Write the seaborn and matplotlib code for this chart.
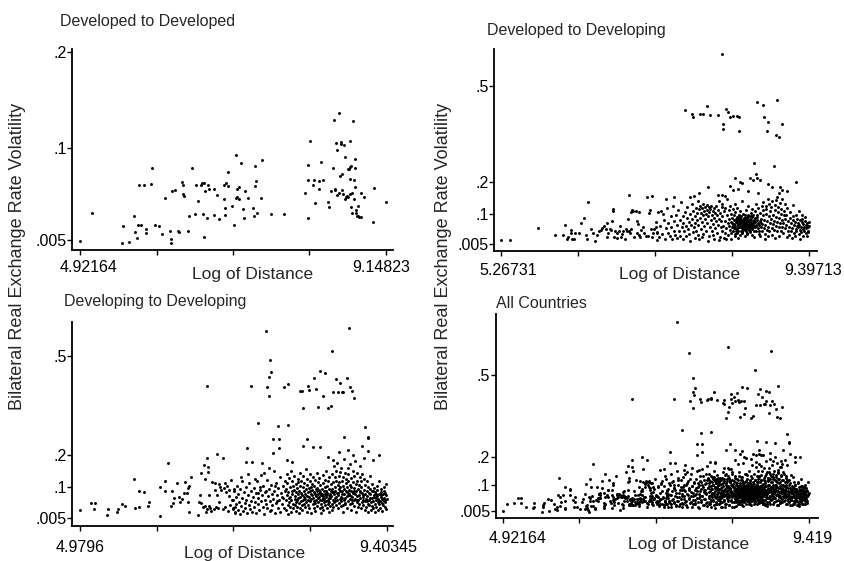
import matplotlib
matplotlib.use("Agg")
import matplotlib.pyplot as plt
import matplotlib.transforms as mtransforms
import seaborn as sns
import pandas as pd

sns.set_style("ticks")
plt.rcParams['font.family'] = ['Liberation Sans', 'DejaVu Sans']

# ---------------- data ----------------
panel_titles = ["Developed to Developed", "Developed to Developing",
                "Developing to Developing", "All Countries"]
x_title = "Log of Distance"
y_title = "Bilateral Real Exchange Rate Volatility"

dd_xticklabels = ["4.92164", "9.14823"]
ddg_xticklabels = ["5.26731", "9.39713"]
dgdg_xticklabels = ["4.9796", "9.40345"]
all_xticklabels = ["4.92164", "9.419"]
dd_yticks = [".005", ".1", ".2"]
other_yticks = [".005", ".1", ".2", ".5"]

# Developed to Developed
dd_points = [
    (4.9216, 0.004), (5.087, 0.033), (5.502, 0.002), (5.603, 0.003), (5.515, 0.019),
    (5.672, 0.030), (5.686, 0.013), (5.713, 0.007), (5.723, 0.020), (5.759, 0.021),
    (5.833, 0.016), (5.833, 0.012), (5.916, 0.080), (5.907, 0.063), (5.736, 0.062),
    (5.806, 0.062), (5.962, 0.020), (6.013, 0.019), (6.059, 0.011), (6.100, 0.048),
    (6.165, 0.014), (6.174, 0.006), (6.183, 0.002), (6.192, 0.056), (6.238, 0.057),
    (6.275, 0.014), (6.284, 0.013), (6.335, 0.065), (6.349, 0.062), (6.344, 0.053),
    (6.353, 0.051), (6.413, 0.014), (6.427, 0.030), (6.468, 0.080), (6.505, 0.032),
    (6.528, 0.062), (6.547, 0.045), (6.593, 0.062), (6.602, 0.064), (6.620, 0.032),
    (6.634, 0.064), (6.639, 0.008), (6.653, 0.056), (6.676, 0.028), (6.689, 0.062),
    (6.708, 0.058), (6.768, 0.058), (6.772, 0.031), (6.814, 0.052), (6.837, 0.027),
    (6.906, 0.062), (6.915, 0.047), (6.920, 0.031), (6.929, 0.038), (6.938, 0.064),
    (6.961, 0.061), (6.970, 0.075), (7.016, 0.040), (7.044, 0.020), (7.076, 0.093),
    (7.081, 0.048), (7.090, 0.058), (7.095, 0.050), (7.113, 0.060), (7.122, 0.047),
    (7.150, 0.085), (7.177, 0.037), (7.182, 0.028), (7.200, 0.056), (7.247, 0.048),
    (7.311, 0.038), (7.320, 0.030), (7.334, 0.061), (7.334, 0.082), (7.348, 0.066),
    (7.371, 0.033), (7.421, 0.048), (7.435, 0.088), (7.560, 0.032), (7.739, 0.032),
    (8.034, 0.054), (8.071, 0.028), (8.071, 0.083), (8.071, 0.067), (8.098, 0.108),
    (8.135, 0.062), (8.158, 0.067), (8.172, 0.043), (8.218, 0.066), (8.227, 0.058),
    (8.255, 0.086), (8.282, 0.067), (8.347, 0.044), (8.365, 0.039), (8.388, 0.056),
    (8.416, 0.080), (8.425, 0.129), (8.439, 0.058), (8.448, 0.057), (8.453, 0.105),
    (8.467, 0.098), (8.476, 0.052), (8.494, 0.054), (8.503, 0.136), (8.517, 0.071),
    (8.522, 0.104), (8.531, 0.106), (8.540, 0.073), (8.540, 0.057), (8.549, 0.053),
    (8.572, 0.103), (8.577, 0.047), (8.586, 0.091), (8.595, 0.050), (8.609, 0.051),
    (8.623, 0.078), (8.628, 0.050), (8.632, 0.079), (8.646, 0.053), (8.651, 0.108),
    (8.655, 0.068), (8.655, 0.081), (8.669, 0.082), (8.669, 0.039), (8.678, 0.054),
    (8.683, 0.033), (8.688, 0.128), (8.701, 0.067), (8.711, 0.047), (8.715, 0.089),
    (8.724, 0.080), (8.724, 0.060), (8.729, 0.036), (8.738, 0.033), (8.747, 0.030),
    (8.761, 0.040), (8.761, 0.030), (8.780, 0.029), (8.798, 0.029), (8.807, 0.054),
    (8.844, 0.049), (8.964, 0.024), (8.982, 0.059), (9.148, 0.044),
]

# Developed to Developing: sparse part
ddg_sparse = [
    (5.2673, 0.019), (5.388, 0.019), (5.763, 0.055), (5.986, 0.035), (6.093, 0.035),
    (6.125, 0.066), (6.147, 0.021), (6.165, 0.027), (6.200, 0.050), (6.209, 0.041),
    (6.218, 0.021), (6.245, 0.021), (6.254, 0.039), (6.317, 0.041), (6.343, 0.071),
    (6.379, 0.088), (6.406, 0.033), (6.415, 0.023), (6.468, 0.054), (6.504, 0.041),
    (6.526, 0.014), (6.558, 0.035), (6.576, 0.046), (6.602, 0.050), (6.620, 0.056),
    (6.647, 0.062), (6.669, 0.054), (6.683, 0.073), (6.692, 0.027), (6.701, 0.041),
    (6.727, 0.054), (6.745, 0.050), (6.759, 0.079), (6.763, 0.108), (6.772, 0.114),
    (6.781, 0.027), (6.790, 0.046), (6.817, 0.025), (6.826, 0.039), (6.843, 0.046),
    (6.861, 0.062), (6.870, 0.027), (6.888, 0.037), (6.897, 0.048), (6.924, 0.021),
    (6.942, 0.052), (6.951, 0.046), (6.968, 0.083), (6.977, 0.048), (6.995, 0.039),
    (7.013, 0.054), (7.013, 0.106), (7.026, 0.112), (7.040, 0.110), (7.049, 0.029),
    (7.071, 0.110), (7.085, 0.079), (7.094, 0.041), (7.102, 0.068), (7.116, 0.106),
    (7.120, 0.035), (7.129, 0.027), (7.147, 0.050), (7.174, 0.060), (7.183, 0.041),
    (7.205, 0.031), (7.236, 0.031), (7.250, 0.102), (7.263, 0.112), (7.281, 0.052),
    (7.294, 0.027), (7.308, 0.041), (7.317, 0.052), (7.339, 0.058), (7.352, 0.019),
    (7.361, 0.041),
    (8.223, 0.600), (7.732, 0.424), (7.821, 0.412), (7.835, 0.402), (7.933, 0.413),
    (7.977, 0.412), (8.031, 0.436), (8.067, 0.409), (8.178, 0.408), (8.281, 0.428),
    (8.312, 0.419), (8.335, 0.404), (8.379, 0.407), (8.424, 0.405), (8.460, 0.404),
    (8.245, 0.381), (8.236, 0.365), (8.460, 0.358), (8.701, 0.449), (8.781, 0.441),
    (8.969, 0.457), (8.790, 0.404), (8.848, 0.388), (8.826, 0.360), (9.027, 0.381),
    (8.951, 0.347), (8.996, 0.341), (8.661, 0.260), (8.924, 0.250),
    (8.402, 0.212), (8.469, 0.201), (8.491, 0.198), (8.679, 0.225), (8.603, 0.211),
    (8.647, 0.206), (8.692, 0.211), (8.737, 0.206), (8.839, 0.193), (8.893, 0.185),
    (9.004, 0.185), (9.219, 0.200), (8.044, 0.183), (8.178, 0.159), (8.223, 0.160),
    (8.268, 0.156), (8.335, 0.188), (8.379, 0.175), (8.446, 0.177), (8.580, 0.170),
    (8.714, 0.166), (9.027, 0.175), (8.996, 0.164), (9.094, 0.173), (8.960, 0.154),
    (6.986, 0.158), (7.227, 0.154), (7.285, 0.157), (7.478, 0.148), (7.585, 0.154),
    (6.428, 0.138), (7.799, 0.154), (7.853, 0.157), (7.924, 0.166),
    (7.34, 0.075), (7.36, 0.042), (7.37, 0.105), (7.39, 0.028), (7.40, 0.061),
    (7.41, 0.108), (7.43, 0.036), (7.44, 0.100), (7.45, 0.082), (7.46, 0.022),
    (7.48, 0.055), (7.49, 0.118), (7.50, 0.040), (7.51, 0.071), (7.53, 0.030),
    (7.54, 0.092), (7.55, 0.058), (7.56, 0.020), (7.57, 0.126), (7.58, 0.046),
    (7.59, 0.079), (7.60, 0.035), (7.61, 0.098), (7.62, 0.025), (7.63, 0.065),
    (7.64, 0.112), (7.65, 0.048), (7.66, 0.082), (7.67, 0.032), (7.68, 0.138),
    (7.69, 0.058), (7.70, 0.094), (7.704, 0.020), (7.71, 0.071), (7.72, 0.045),
    (7.73, 0.105), (7.74, 0.062), (7.75, 0.030), (7.76, 0.088), (7.764, 0.122),
    (7.77, 0.052), (7.78, 0.076), (7.79, 0.038), (7.80, 0.099), (7.804, 0.016),
    (7.81, 0.066), (7.82, 0.130), (7.83, 0.085), (7.834, 0.044), (7.84, 0.108),
    (7.85, 0.058), (7.86, 0.026), (7.864, 0.092), (7.87, 0.072), (7.88, 0.118),
    (7.884, 0.048), (7.89, 0.082), (7.90, 0.034), (7.896, 0.102), (7.903, 0.140),
    (9.397, 0.062),
]

# Developed to Developing: dense part
ddg_dense = [
    (7.912, 0.064), (7.918, 0.115), (7.925, 0.022), (7.931, 0.088), (7.938, 0.125),
    (7.944, 0.052), (7.948, 0.104), (7.955, 0.074), (7.958, 0.118), (7.965, 0.028),
    (7.968, 0.038), (7.974, 0.096), (7.979, 0.130), (7.986, 0.062), (7.991, 0.110),
    (7.997, 0.085), (8.003, 0.120), (8.011, 0.045), (8.016, 0.100), (8.022, 0.128),
    (8.027, 0.070), (8.033, 0.112), (8.037, 0.092), (8.044, 0.016), (8.048, 0.122),
    (8.053, 0.030), (8.058, 0.105), (8.064, 0.058), (8.069, 0.115), (8.076, 0.080),
    (8.082, 0.125), (8.088, 0.098), (8.095, 0.048), (8.102, 0.110), (8.107, 0.068),
    (8.113, 0.034), (8.118, 0.118), (8.123, 0.088), (8.127, 0.020), (8.133, 0.102),
    (8.139, 0.055), (8.146, 0.125), (8.152, 0.078), (8.158, 0.095), (8.166, 0.040),
    (8.172, 0.112), (8.177, 0.066), (8.183, 0.018), (8.188, 0.085), (8.194, 0.140),
    (8.199, 0.028), (8.204, 0.104), (8.211, 0.058), (8.216, 0.078), (8.221, 0.120),
    (8.226, 0.045), (8.234, 0.092), (8.229, 0.132), (8.247, 0.062), (8.255, 0.108),
    (8.251, 0.025), (8.268, 0.078), (8.274, 0.040), (8.263, 0.118), (8.286, 0.055),
    (8.295, 0.098), (8.291, 0.145), (8.283, 0.020), (8.307, 0.070), (8.315, 0.112),
    (8.312, 0.035), (8.326, 0.085), (8.334, 0.050), (8.338, 0.125), (8.323, 0.062),
    (8.347, 0.040), (8.353, 0.075), (8.344, 0.100), (8.357, 0.058), (8.351, 0.022),
    (8.366, 0.088), (8.374, 0.065), (8.369, 0.048), (8.377, 0.115), (8.363, 0.072),
    (8.386, 0.055), (8.393, 0.080), (8.384, 0.095), (8.397, 0.038), (8.389, 0.068),
    (8.395, 0.130), (8.404, 0.062), (8.412, 0.075), (8.417, 0.045), (8.408, 0.105),
    (8.414, 0.085), (8.403, 0.030), (8.426, 0.070), (8.433, 0.052), (8.424, 0.090),
    (8.437, 0.060), (8.429, 0.078), (8.435, 0.118), (8.422, 0.040), (8.446, 0.065),
    (8.453, 0.082), (8.444, 0.048), (8.457, 0.072), (8.449, 0.098), (8.455, 0.058),
    (8.442, 0.025), (8.466, 0.075), (8.473, 0.060), (8.464, 0.088), (8.477, 0.045),
    (8.469, 0.068), (8.475, 0.108), (8.462, 0.080), (8.471, 0.035), (8.486, 0.070),
    (8.494, 0.055), (8.483, 0.082), (8.497, 0.062), (8.488, 0.092), (8.492, 0.048),
    (8.484, 0.076), (8.496, 0.140), (8.506, 0.066), (8.513, 0.078), (8.504, 0.052),
    (8.517, 0.088), (8.509, 0.060), (8.515, 0.072), (8.502, 0.040), (8.511, 0.100),
    (8.526, 0.072), (8.534, 0.058), (8.523, 0.085), (8.537, 0.064), (8.529, 0.050),
    (8.532, 0.095), (8.524, 0.080), (8.536, 0.030), (8.546, 0.068), (8.553, 0.076),
    (8.544, 0.055), (8.557, 0.090), (8.549, 0.062), (8.552, 0.045), (8.543, 0.082),
    (8.555, 0.112), (8.566, 0.074), (8.573, 0.060), (8.564, 0.086), (8.577, 0.052),
    (8.569, 0.068), (8.575, 0.098), (8.562, 0.040), (8.586, 0.065), (8.593, 0.080),
    (8.584, 0.050), (8.597, 0.072), (8.589, 0.092), (8.595, 0.058), (8.582, 0.125),
    (8.606, 0.070), (8.613, 0.056), (8.604, 0.084), (8.617, 0.062), (8.609, 0.044),
    (8.615, 0.102), (8.602, 0.078), (8.626, 0.066), (8.634, 0.090), (8.623, 0.052),
    (8.637, 0.074), (8.628, 0.035), (8.632, 0.115), (8.646, 0.060), (8.654, 0.080),
    (8.643, 0.070), (8.657, 0.048), (8.649, 0.098), (8.652, 0.028), (8.666, 0.075),
    (8.674, 0.058), (8.663, 0.088), (8.677, 0.065), (8.669, 0.108), (8.686, 0.062),
    (8.694, 0.082), (8.683, 0.045), (8.697, 0.095), (8.689, 0.132), (8.706, 0.070),
    (8.714, 0.055), (8.703, 0.090), (8.717, 0.038), (8.709, 0.118), (8.726, 0.065),
    (8.734, 0.078), (8.723, 0.048), (8.737, 0.102), (8.746, 0.058), (8.754, 0.085),
    (8.743, 0.030), (8.757, 0.125), (8.749, 0.072), (8.766, 0.068), (8.774, 0.095),
    (8.763, 0.045), (8.777, 0.112), (8.786, 0.055), (8.794, 0.080), (8.783, 0.138),
    (8.797, 0.022), (8.806, 0.065), (8.814, 0.100), (8.803, 0.038), (8.817, 0.125),
    (8.826, 0.078), (8.834, 0.050), (8.823, 0.115), (8.837, 0.145), (8.846, 0.060),
    (8.854, 0.092), (8.843, 0.030), (8.857, 0.132), (8.866, 0.072), (8.874, 0.108),
    (8.863, 0.045), (8.886, 0.085), (8.894, 0.055), (8.883, 0.120), (8.897, 0.140),
    (8.906, 0.068), (8.914, 0.098), (8.903, 0.035), (8.926, 0.078), (8.934, 0.112),
    (8.923, 0.050), (8.937, 0.128), (8.946, 0.062), (8.954, 0.090), (8.943, 0.025),
    (8.957, 0.142), (8.966, 0.075), (8.974, 0.105), (8.963, 0.045), (8.986, 0.058),
    (8.994, 0.088), (8.983, 0.122), (8.997, 0.032), (9.006, 0.070), (9.014, 0.100),
    (9.003, 0.135), (9.017, 0.048), (9.026, 0.082), (9.034, 0.060), (9.023, 0.115),
    (9.037, 0.145), (9.046, 0.040), (9.054, 0.095), (9.043, 0.072), (9.066, 0.085),
    (9.074, 0.055), (9.063, 0.110), (9.077, 0.130), (9.086, 0.065), (9.094, 0.028),
    (9.083, 0.098), (9.106, 0.078), (9.114, 0.048), (9.103, 0.118), (9.126, 0.060),
    (9.134, 0.088), (9.123, 0.035), (9.146, 0.072), (9.154, 0.045), (9.143, 0.105),
    (9.166, 0.055), (9.174, 0.082), (9.163, 0.025), (9.177, 0.128), (9.186, 0.066),
    (9.194, 0.040), (9.183, 0.092), (9.206, 0.075), (9.214, 0.052), (9.203, 0.030),
    (9.217, 0.098), (9.226, 0.062), (9.234, 0.085), (9.223, 0.045), (9.246, 0.070),
    (9.254, 0.038), (9.243, 0.058), (9.257, 0.110), (9.266, 0.080), (9.274, 0.050),
    (9.263, 0.065), (9.277, 0.022), (9.286, 0.060), (9.294, 0.075), (9.283, 0.042),
    (9.297, 0.095), (9.306, 0.068), (9.314, 0.052), (9.303, 0.085), (9.317, 0.030),
    (9.326, 0.058), (9.334, 0.078), (9.323, 0.045), (9.346, 0.065), (9.354, 0.040),
    (9.343, 0.090), (9.357, 0.055), (9.366, 0.072), (9.374, 0.048), (9.363, 0.030),
    (9.377, 0.062), (9.386, 0.058), (9.394, 0.075), (9.383, 0.042),
    (8.452, 0.066), (8.478, 0.071), (8.503, 0.084), (8.521, 0.067), (8.541, 0.073),
    (8.561, 0.079), (8.581, 0.063), (8.601, 0.069), (8.621, 0.081), (8.641, 0.064),
    (8.458, 0.091), (8.518, 0.059), (8.538, 0.087), (8.578, 0.057), (8.618, 0.093),
    (8.498, 0.043), (8.558, 0.037), (8.598, 0.047), (8.428, 0.083), (8.408, 0.057),
]

# Developing to Developing: sparse part
dgdg_sparse = [
    (7.658, 0.578), (8.864, 0.586), (8.619, 0.518), (7.720, 0.489), (7.711, 0.437),
    (7.739, 0.453), (8.441, 0.455), (8.513, 0.450), (8.360, 0.433), (8.826, 0.435),
    (8.672, 0.430), (8.730, 0.418), (8.754, 0.392), (8.634, 0.390), (8.874, 0.405),
    (8.898, 0.394), (8.932, 0.374), (8.768, 0.392), (8.706, 0.390), (8.384, 0.399),
    (8.273, 0.410), (8.283, 0.397), (8.153, 0.395), (8.177, 0.394), (8.480, 0.380),
    (8.201, 0.341), (8.408, 0.346), (8.561, 0.341), (8.595, 0.348), (7.922, 0.407),
    (7.984, 0.416), (7.672, 0.405), (7.711, 0.379), (7.441, 0.410), (6.816, 0.410),
    (7.552, 0.297), (7.831, 0.288), (7.984, 0.290), (7.768, 0.249), (7.855, 0.246),
    (7.855, 0.219), (7.768, 0.206), (8.259, 0.249), (8.201, 0.226), (8.792, 0.255),
    (9.090, 0.285), (9.129, 0.255), (9.129, 0.250), (7.384, 0.219), (6.961, 0.202),
    (6.244, 0.175), (6.816, 0.188), (7.037, 0.188), (7.374, 0.178), (7.456, 0.178),
    (7.600, 0.173), (7.961, 0.183), (8.033, 0.178), (8.336, 0.224), (8.441, 0.222),
    (8.716, 0.207), (9.042, 0.227), (9.138, 0.212), (9.292, 0.199), (9.210, 0.183),
    (8.922, 0.199), (8.634, 0.183), (8.561, 0.193), (8.850, 0.214),
    (4.9796, 0.030), (5.143, 0.053), (5.191, 0.051), (5.186, 0.032), (5.369, 0.016),
    (5.384, 0.032), (5.518, 0.024), (5.528, 0.032), (5.585, 0.049), (5.624, 0.043),
    (5.754, 0.124), (5.778, 0.036), (5.835, 0.090), (5.835, 0.039), (5.903, 0.084),
    (5.960, 0.043), (5.980, 0.056), (6.129, 0.012), (6.138, 0.102), (6.201, 0.120),
    (6.211, 0.090), (6.297, 0.043), (6.316, 0.053), (6.331, 0.066), (6.307, 0.090),
    (6.379, 0.114), (6.412, 0.069), (6.427, 0.056), (6.451, 0.063), (6.475, 0.081),
    (6.489, 0.117), (6.523, 0.081), (6.537, 0.097), (6.547, 0.104), (6.543, 0.056),
    (6.557, 0.024), (6.585, 0.132), (6.682, 0.015), (6.701, 0.056), (6.710, 0.077),
    (6.720, 0.051), (6.730, 0.145), (6.749, 0.039), (6.763, 0.168), (6.778, 0.124),
    (6.787, 0.043), (6.797, 0.025), (6.811, 0.032), (6.826, 0.163), (6.829, 0.148),
    (6.836, 0.043), (6.845, 0.076), (6.860, 0.035), (6.874, 0.028), (6.883, 0.117),
    (6.908, 0.032), (6.922, 0.092), (6.932, 0.112), (6.941, 0.039), (6.956, 0.076),
    (6.970, 0.035), (6.980, 0.110), (6.989, 0.056), (7.004, 0.102), (7.018, 0.092),
    (7.037, 0.032), (7.052, 0.097), (7.066, 0.112), (7.076, 0.039), (7.085, 0.086),
    (7.100, 0.104), (7.114, 0.028), (7.124, 0.073), (7.134, 0.092), (7.148, 0.046),
    (7.162, 0.122), (7.172, 0.061), (7.181, 0.032), (7.196, 0.094), (7.210, 0.039),
    (7.220, 0.025),
    (7.184, 0.060), (7.193, 0.035), (7.202, 0.090), (7.214, 0.022), (7.226, 0.070),
    (7.233, 0.048), (7.241, 0.105), (7.254, 0.030), (7.262, 0.078), (7.271, 0.055),
    (7.283, 0.018), (7.294, 0.095), (7.301, 0.042), (7.313, 0.068), (7.322, 0.120),
    (7.334, 0.028), (7.342, 0.084), (7.353, 0.052), (7.364, 0.038), (7.372, 0.100),
    (7.381, 0.062), (7.393, 0.020), (7.404, 0.075), (7.412, 0.045), (7.423, 0.112),
    (7.431, 0.032), (7.444, 0.088), (7.452, 0.058), (7.461, 0.025), (7.398, 0.140),
    (7.304, 0.132), (7.473, 0.070), (7.482, 0.040), (7.491, 0.098), (7.503, 0.055),
    (7.514, 0.022), (7.522, 0.082), (7.533, 0.118), (7.541, 0.048), (7.552, 0.066),
    (7.563, 0.030), (7.571, 0.092), (7.584, 0.058), (7.592, 0.138), (7.601, 0.076),
    (7.613, 0.040), (7.624, 0.105), (7.632, 0.018), (7.643, 0.062), (7.651, 0.085),
    (7.662, 0.050), (7.674, 0.122), (7.683, 0.035), (7.691, 0.072), (7.702, 0.095),
    (7.714, 0.058), (7.723, 0.028), (7.731, 0.108), (7.743, 0.080), (7.752, 0.045),
    (7.761, 0.065), (7.772, 0.150), (7.784, 0.090), (7.793, 0.020), (7.801, 0.052),
    (7.813, 0.112), (7.822, 0.075), (7.834, 0.038), (7.841, 0.098), (7.853, 0.060),
    (7.862, 0.130), (7.871, 0.025), (7.883, 0.082), (7.892, 0.048), (7.901, 0.105),
    (7.913, 0.068), (7.922, 0.035), (7.931, 0.120), (7.943, 0.088), (7.497, 0.125),
    (7.627, 0.145), (7.706, 0.160), (7.577, 0.100), (7.656, 0.088), (7.737, 0.030),
    (7.817, 0.058), (7.887, 0.070), (7.547, 0.082), (7.796, 0.105), (9.403, 0.065),
]

# Developing to Developing: dense part
dgdg_dense = [
    (7.944, 0.060), (7.954, 0.095), (7.948, 0.030), (7.958, 0.140), (7.964, 0.075),
    (7.974, 0.045), (7.968, 0.112), (7.977, 0.018), (7.984, 0.085), (7.994, 0.055),
    (7.988, 0.128), (7.998, 0.068), (8.004, 0.040), (8.014, 0.100), (8.008, 0.070),
    (8.017, 0.150), (8.024, 0.062), (8.034, 0.088), (8.028, 0.025), (8.038, 0.118),
    (8.044, 0.078), (8.054, 0.050), (8.048, 0.105), (8.057, 0.035), (8.064, 0.092),
    (8.074, 0.065), (8.068, 0.135), (8.078, 0.045), (8.084, 0.072), (8.094, 0.028),
    (8.088, 0.110), (8.097, 0.085), (8.091, 0.055), (8.104, 0.098), (8.114, 0.060),
    (8.108, 0.040), (8.118, 0.125), (8.124, 0.080), (8.134, 0.052), (8.128, 0.115),
    (8.137, 0.020), (8.131, 0.068), (8.144, 0.090), (8.154, 0.070), (8.148, 0.035),
    (8.158, 0.145), (8.151, 0.105), (8.164, 0.058), (8.174, 0.082), (8.168, 0.120),
    (8.177, 0.045), (8.184, 0.075), (8.194, 0.100), (8.188, 0.030), (8.198, 0.062),
    (8.191, 0.135), (8.204, 0.088), (8.214, 0.050), (8.208, 0.112), (8.217, 0.070),
    (8.224, 0.065), (8.234, 0.095), (8.228, 0.040), (8.238, 0.155), (8.231, 0.080),
    (8.244, 0.055), (8.254, 0.108), (8.248, 0.025), (8.257, 0.072), (8.251, 0.125),
    (8.264, 0.085), (8.274, 0.062), (8.268, 0.045), (8.278, 0.098), (8.284, 0.070),
    (8.294, 0.118), (8.288, 0.035), (8.297, 0.090), (8.291, 0.140), (8.304, 0.058),
    (8.314, 0.080), (8.308, 0.102), (8.318, 0.020), (8.311, 0.065), (8.324, 0.092),
    (8.334, 0.048), (8.328, 0.075), (8.337, 0.130), (8.331, 0.110), (8.344, 0.068),
    (8.354, 0.085), (8.348, 0.038), (8.358, 0.105), (8.351, 0.058), (8.364, 0.078),
    (8.374, 0.052), (8.368, 0.122), (8.377, 0.095), (8.371, 0.028), (8.384, 0.062),
    (8.394, 0.088), (8.388, 0.072), (8.398, 0.145), (8.391, 0.042), (8.404, 0.098),
    (8.414, 0.055), (8.408, 0.080), (8.417, 0.115), (8.411, 0.066), (8.424, 0.070),
    (8.434, 0.035), (8.428, 0.092), (8.438, 0.060), (8.431, 0.128), (8.444, 0.085),
    (8.454, 0.048), (8.448, 0.108), (8.457, 0.075), (8.451, 0.022), (8.464, 0.062),
    (8.474, 0.095), (8.468, 0.040), (8.478, 0.138), (8.471, 0.080), (8.484, 0.072),
    (8.494, 0.055), (8.488, 0.112), (8.497, 0.088), (8.491, 0.030), (8.504, 0.065),
    (8.514, 0.100), (8.508, 0.045), (8.518, 0.078), (8.511, 0.122), (8.524, 0.090),
    (8.534, 0.058), (8.528, 0.070), (8.537, 0.035), (8.531, 0.150), (8.544, 0.082),
    (8.554, 0.048), (8.548, 0.105), (8.558, 0.062), (8.551, 0.118), (8.564, 0.075),
    (8.574, 0.095), (8.568, 0.025), (8.577, 0.055), (8.571, 0.132), (8.584, 0.068),
    (8.594, 0.088), (8.588, 0.042), (8.598, 0.110), (8.591, 0.080), (8.604, 0.072),
    (8.614, 0.095), (8.608, 0.050), (8.617, 0.140), (8.611, 0.030), (8.624, 0.085),
    (8.634, 0.060), (8.628, 0.115), (8.638, 0.165), (8.631, 0.040), (8.644, 0.078),
    (8.654, 0.100), (8.648, 0.055), (8.657, 0.130), (8.651, 0.068), (8.664, 0.090),
    (8.674, 0.045), (8.668, 0.120), (8.678, 0.070), (8.671, 0.150), (8.684, 0.062),
    (8.694, 0.108), (8.688, 0.082), (8.697, 0.035), (8.691, 0.175), (8.704, 0.075),
    (8.714, 0.095), (8.708, 0.052), (8.718, 0.135), (8.711, 0.115), (8.724, 0.088),
    (8.734, 0.065), (8.728, 0.148), (8.737, 0.042), (8.731, 0.100), (8.744, 0.070),
    (8.754, 0.118), (8.748, 0.058), (8.758, 0.090), (8.751, 0.160), (8.764, 0.080),
    (8.774, 0.045), (8.768, 0.105), (8.777, 0.130), (8.771, 0.025), (8.784, 0.095),
    (8.794, 0.062), (8.788, 0.078), (8.798, 0.145), (8.791, 0.185), (8.804, 0.068),
    (8.814, 0.112), (8.808, 0.050), (8.817, 0.088), (8.811, 0.125), (8.824, 0.085),
    (8.834, 0.038), (8.828, 0.100), (8.838, 0.160), (8.831, 0.072), (8.844, 0.058),
    (8.854, 0.092), (8.848, 0.120), (8.857, 0.075), (8.851, 0.140), (8.864, 0.078),
    (8.874, 0.048), (8.868, 0.108), (8.878, 0.065), (8.871, 0.170), (8.884, 0.090),
    (8.894, 0.030), (8.888, 0.128), (8.897, 0.060), (8.891, 0.100), (8.904, 0.070),
    (8.914, 0.115), (8.908, 0.052), (8.918, 0.085), (8.911, 0.150), (8.924, 0.082),
    (8.934, 0.042), (8.928, 0.098), (8.937, 0.135), (8.931, 0.062), (8.944, 0.065),
    (8.954, 0.110), (8.948, 0.078), (8.958, 0.025), (8.951, 0.180), (8.964, 0.088),
    (8.974, 0.055), (8.968, 0.120), (8.977, 0.072), (8.971, 0.145), (8.984, 0.060),
    (8.994, 0.095), (8.988, 0.040), (8.998, 0.108), (9.004, 0.075), (9.014, 0.130),
    (9.008, 0.050), (9.017, 0.088), (9.011, 0.165), (9.024, 0.068), (9.034, 0.100),
    (9.028, 0.035), (9.038, 0.118), (9.044, 0.082), (9.054, 0.055), (9.048, 0.140),
    (9.057, 0.070), (9.064, 0.062), (9.074, 0.092), (9.068, 0.045), (9.078, 0.125),
    (9.071, 0.190), (9.084, 0.078), (9.094, 0.108), (9.088, 0.030), (9.097, 0.058),
    (9.104, 0.065), (9.114, 0.088), (9.108, 0.040), (9.118, 0.118), (9.124, 0.072),
    (9.134, 0.050), (9.128, 0.100), (9.137, 0.025), (9.144, 0.060), (9.154, 0.082),
    (9.148, 0.045), (9.158, 0.135), (9.164, 0.078), (9.174, 0.055), (9.168, 0.095),
    (9.177, 0.030), (9.184, 0.068), (9.194, 0.042), (9.188, 0.088), (9.198, 0.110),
    (9.204, 0.058), (9.214, 0.075), (9.208, 0.035), (9.217, 0.098), (9.224, 0.070),
    (9.234, 0.050), (9.228, 0.085), (9.238, 0.025), (9.244, 0.062), (9.254, 0.078),
    (9.248, 0.040), (9.257, 0.105), (9.264, 0.072), (9.274, 0.055), (9.268, 0.092),
    (9.278, 0.030), (9.284, 0.065), (9.294, 0.048), (9.288, 0.080), (9.297, 0.120),
    (9.304, 0.058), (9.314, 0.075), (9.308, 0.038), (9.318, 0.095), (9.324, 0.070),
    (9.334, 0.052), (9.328, 0.085), (9.337, 0.028), (9.344, 0.062), (9.354, 0.078),
    (9.348, 0.045), (9.358, 0.100), (9.364, 0.068), (9.374, 0.040), (9.368, 0.088),
    (9.377, 0.055), (9.384, 0.060), (9.394, 0.075), (9.388, 0.032), (9.398, 0.110),
    (8.436, 0.083), (8.482, 0.066), (8.527, 0.077), (8.573, 0.068), (8.617, 0.086),
    (8.663, 0.058), (8.707, 0.082), (8.752, 0.066), (8.797, 0.053), (8.842, 0.083),
    (8.887, 0.072), (8.932, 0.090), (8.977, 0.062), (9.022, 0.085), (9.067, 0.077),
    (9.112, 0.058), (9.157, 0.068), (9.202, 0.087), (9.247, 0.067), (9.292, 0.058),
    (9.337, 0.064), (9.382, 0.082),
]

# points seen only in the "All Countries" panel
all_extra = [(7.477, 0.690), (9.419, 0.070)]


# ---------------- build frames ----------------
def frame(*point_lists):
    pts = [p for lst in point_lists for p in lst]
    return pd.DataFrame({"distance": [p[0] for p in pts],
                         "volatility": [p[1] for p in pts]})


df_dd = frame(dd_points)
df_ddg = frame(ddg_sparse, ddg_dense)
df_dgdg = frame(dgdg_sparse, dgdg_dense)
df_all = frame(dd_points, ddg_sparse, ddg_dense, dgdg_sparse, dgdg_dense, all_extra)

# ---------------- figure ----------------
W, H = 845, 561
fig = plt.figure(figsize=(W / 100, H / 100), dpi=100)


def px_axes(x0, y0, x1, y1):
    return fig.add_axes([x0 / W, 1 - y1 / H, (x1 - x0) / W, (y1 - y0) / H])


panels = [
    dict(df=df_dd, box=(72, 49, 393, 250), xl=dd_xticklabels, yl=dd_yticks,
         xlim=(4.811, 9.245), ylim=(-0.0054, 0.2028), title=(60, 21.5),
         xlab=(0.564, -0.12), pad=4, shift=(9, -5)),
    dict(df=df_ddg, box=(494, 49, 817, 250.7), xl=ddg_xticklabels, yl=other_yticks,
         xlim=(5.1735, 9.500), ylim=(-0.015, 0.615), title=(486.7, 30),
         xlab=(0.576, -0.12), pad=5, shift=(7, 4)),
    dict(df=df_dgdg, box=(72, 321.7, 393, 525.7), xl=dgdg_xticklabels, yl=other_yticks,
         xlim=(4.8642, 9.494), ylim=(-0.0176, 0.6062), title=(64, 301.5),
         xlab=(0.539, -0.135), pad=7, shift=(0, 2)),
    dict(df=df_all, box=(495.7, 314, 818, 518.3), xl=all_xticklabels, yl=other_yticks,
         xlim=(4.819, 9.551), ylim=(-0.0226, 0.7203), title=(495.7, 303.5),
         xlab=(0.597, -0.13), pad=6, shift=(15, 3)),
]

for i, p in enumerate(panels):
    ax = px_axes(*p["box"])
    sns.scatterplot(data=p["df"], x="distance", y="volatility", ax=ax, s=4.5,
                    color="black", linewidth=0, marker="o", legend=False)
    ax.set_xlim(*p["xlim"])
    ax.set_ylim(*p["ylim"])
    lo, hi = float(p["xl"][0]), float(p["xl"][1])
    ax.set_xticks([lo + (hi - lo) * k / 4 for k in range(5)])
    ax.set_xticklabels([p["xl"][0], "", "", "", p["xl"][1]])
    ax.set_yticks([float(t) for t in p["yl"]])
    ax.set_yticklabels(p["yl"])
    ax.set_xlabel("")
    ax.set_ylabel("")
    sns.despine(ax=ax)
    for s in ("left", "bottom"):
        ax.spines[s].set_linewidth(1.3)
        ax.spines[s].set_color("black")
    ax.tick_params(axis="both", direction="out", length=3.5, width=1.0,
                   colors="black", labelsize=11.5)
    ax.tick_params(axis="y", pad=0.5)
    ax.tick_params(axis="x", pad=p["pad"])
    labs = ax.get_xticklabels()
    for lab, dx in ((labs[0], p["shift"][0]), (labs[-1], p["shift"][1])):
        lab.set_transform(lab.get_transform() +
                          mtransforms.ScaledTranslation(dx / 100, 0, fig.dpi_scale_trans))
    ax.text(p["xlab"][0], p["xlab"][1], x_title, transform=ax.transAxes,
            ha="center", va="center", fontsize=12.5)
    tx, ty = p["title"]
    fig.text(tx / W, 1 - ty / H, panel_titles[i], ha="left", va="center", fontsize=11.5)

fig.text(17.5 / W, 1 - 256 / H, y_title, rotation=90, ha="center", va="center", fontsize=13)
fig.text(444 / W, 1 - 256 / H, y_title, rotation=90, ha="center", va="center", fontsize=13)

fig.savefig("out.png", dpi=100)
